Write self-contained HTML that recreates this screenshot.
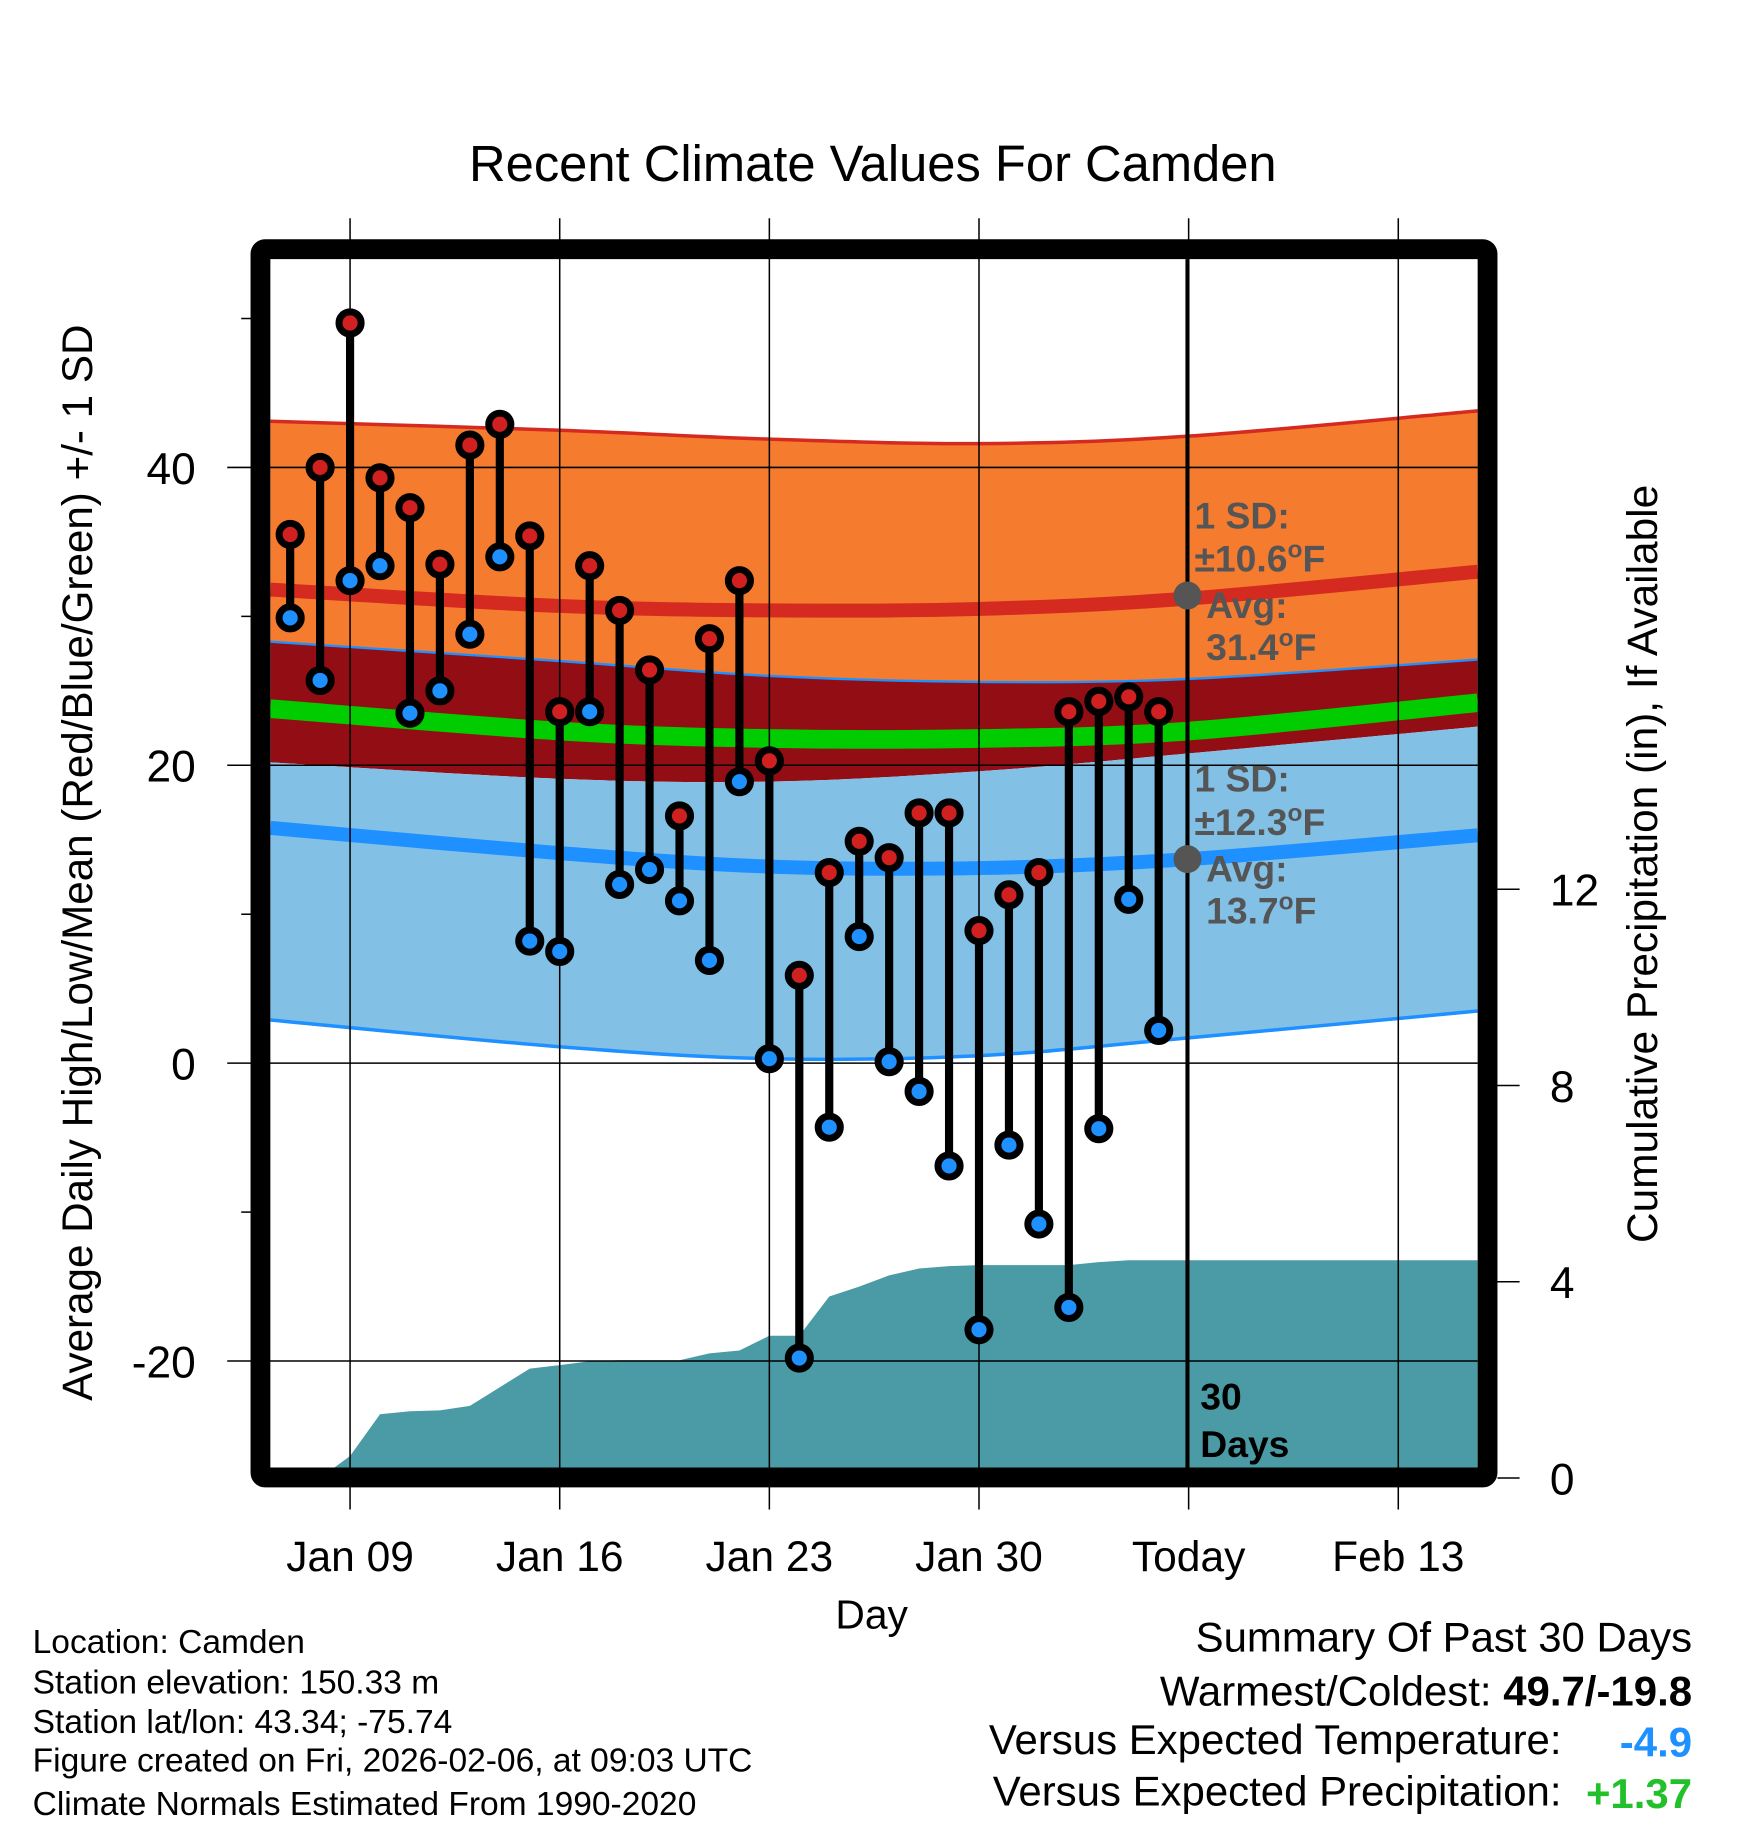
<!DOCTYPE html>
<html><head><meta charset="utf-8"><style>
html,body{margin:0;padding:0;background:#fff;}
svg{display:block;font-family:"Liberation Sans",Arial,sans-serif;}
</style></head><body>
<svg id="chart" width="1748" height="1828" viewBox="0 0 1500 1568" xmlns="http://www.w3.org/2000/svg">
<text x="749" y="155" font-size="43.5" text-anchor="middle">Recent Climate Values For Camden</text>
<g id="bands"></g>
<g id="grid"></g>
<g id="marks"></g>
<g id="annot"></g>
<text transform="translate(79,740) rotate(-90)" font-size="36.2" text-anchor="middle">Average Daily High/Low/Mean (Red/Blue/Green) +/- 1 SD</text>
<text transform="translate(1422,741) rotate(-90)" font-size="36.4" text-anchor="middle">Cumulative Precipitation (in), If Available</text>
<text x="748" y="1397" font-size="35" text-anchor="middle">Day</text>
<g font-size="28.8">
<text x="28" y="1418">Location: Camden</text>
<text x="28" y="1453">Station elevation: 150.33 m</text>
<text x="28" y="1487">Station lat/lon: 43.34; -75.74</text>
<text x="28" y="1520">Figure created on Fri, 2026-02-06, at 09:03 UTC</text>
<text x="28" y="1557">Climate Normals Estimated From 1990-2020</text>
</g>
<g font-size="36">
<text x="1452" y="1417" text-anchor="end">Summary Of Past 30 Days</text>
<text x="1452" y="1463" text-anchor="end">Warmest/Coldest: <tspan font-weight="bold">49.7/-19.8</tspan></text>
<text x="1340" y="1505" text-anchor="end">Versus Expected Temperature:</text>
<text x="1452" y="1507" text-anchor="end" font-weight="bold" fill="#1E90FF">-4.9</text>
<text x="1340" y="1549" text-anchor="end">Versus Expected Precipitation:</text>
<text x="1452" y="1551" text-anchor="end" font-weight="bold" fill="#22C02A">+1.37</text>
</g>
</svg>
<script>
const highs=[35.5,40,49.7,39.3,37.3,33.5,41.5,42.9,35.4,23.6,33.4,30.4,26.4,16.6,28.5,32.4,20.3,5.9,12.8,14.9,13.8,16.8,16.8,8.9,11.3,12.8,23.6,24.3,24.6,23.6];
const lows=[29.9,25.7,32.4,33.4,23.5,25,28.8,34,8.2,7.5,23.6,12,13,10.9,6.9,18.9,0.3,-19.8,-4.3,8.5,0.1,-1.9,-6.9,-17.9,-5.5,-10.8,-16.4,-4.4,11,2.2];
const precip=[0,0,0.45,1.3,1.36,1.38,1.47,1.85,2.23,2.3,2.38,2.4,2.4,2.4,2.54,2.6,2.9,2.9,3.7,3.9,4.13,4.27,4.32,4.34,4.34,4.34,4.34,4.4,4.44,4.44];
const normDays=[-0.66,9,16,23,30,39.65];
const highUpper=[43.1,42.5,41.9,41.6,42.1,43.8];
const highMean=[31.8,30.7,30.4,30.5,31.2,33.0];
const highLower=[28.3,27.0,26.0,25.6,25.8,27.1];
const lowUpper=[20.2,19.1,18.9,19.6,20.8,22.6];
const lowMean=[15.8,14.1,13.2,13.1,13.7,15.3];
const lowLower=[2.9,1.1,0.3,0.5,1.7,3.5];
const meanNorm=[23.8,22.3,21.8,21.8,22.3,24.2];
const xTickDays=[2,9,16,23,30,37];
const xTickLabels=["Jan 09","Jan 16","Jan 23","Jan 30","Today","Feb 13"];
const yTicks=[40,20,0,-20];
const y2Ticks=[0,4,8,12];

const NS="http://www.w3.org/2000/svg";
const L=232,R=1268,T=222,B=1259;
const x=d=>249+d*25.7;
const y=v=>912-v*12.78;
const y2=p=>1268-p*42.1;
function mk(tag,attrs,parent){const e=document.createElementNS(NS,tag);for(const k in attrs)e.setAttribute(k,attrs[k]);parent.appendChild(e);return e;}
const bands=document.getElementById('bands'),grid=document.getElementById('grid'),marks=document.getElementById('marks'),annot=document.getElementById('annot');
function smooth(vals){const pts=[];for(let i=0;i<vals.length;i++)pts.push([x(normDays[i]),y(vals[i])]);
 let d=`${pts[0][0]},${pts[0][1]}`;for(let i=0;i<pts.length-1;i++){const p0=pts[Math.max(0,i-1)],p1=pts[i],p2=pts[i+1],p3=pts[Math.min(pts.length-1,i+2)];
 d+=` C${p1[0]+(p2[0]-p0[0])/6},${p1[1]+(p2[1]-p0[1])/6} ${p2[0]-(p3[0]-p1[0])/6},${p2[1]-(p3[1]-p1[1])/6} ${p2[0]},${p2[1]}`;}return d;}
function rev(vals){const pts=[];for(let i=vals.length-1;i>=0;i--)pts.push([x(normDays[i]),y(vals[i])]);
 let d=` L${pts[0][0]},${pts[0][1]}`;for(let i=0;i<pts.length-1;i++){const p0=pts[Math.max(0,i-1)],p1=pts[i],p2=pts[i+1],p3=pts[Math.min(pts.length-1,i+2)];
 d+=` C${p1[0]+(p2[0]-p0[0])/6},${p1[1]+(p2[1]-p0[1])/6} ${p2[0]-(p3[0]-p1[0])/6},${p2[1]-(p3[1]-p1[1])/6} ${p2[0]},${p2[1]}`;}return d+' Z';}
let e;
e=mk('path',{d:'M'+smooth(highUpper)+rev(highLower),fill:'#F57B2E'},bands);

e=mk('path',{d:'M'+smooth(highUpper),fill:'none',stroke:'#D42A20','stroke-width':3},bands);

e=mk('path',{d:'M'+smooth(highLower)+rev(lowUpper),fill:'#920E14'},bands);

e=mk('path',{d:'M'+smooth(lowUpper)+rev(lowLower),fill:'#82C0E6'},bands);

e=mk('path',{d:'M'+smooth(highLower),fill:'none',stroke:'#1E90FF','stroke-width':2},bands);

e=mk('path',{d:'M'+smooth(lowLower),fill:'none',stroke:'#1E90FF','stroke-width':3},bands);

e=mk('path',{d:'M'+smooth(highMean),fill:'none',stroke:'#D42A20','stroke-width':12},bands);

e=mk('path',{d:'M'+smooth(lowMean),fill:'none',stroke:'#1E90FF','stroke-width':12},bands);

e=mk('path',{d:'M'+smooth(meanNorm),fill:'none',stroke:'#00CC00','stroke-width':16},bands);

let pd=`M${L},${B} L${x(0)},${y2(precip[0])}`;precip.forEach((p,i)=>{pd+=` L${x(i)},${y2(p)}`;});
pd+=` L${R},${y2(precip[precip.length-1])} L${R},${B} Z`;
e=mk('path',{d:pd,fill:'#4A9BA5'},bands);

xTickDays.forEach((d,i)=>{
 e=mk('line',{x1:x(d),x2:x(d),y1:187,y2:1295,stroke:'#000','stroke-width':1.3},grid);
 
 e=mk('text',{x:x(d),y:1348,'font-size':36.5,'text-anchor':'middle'},grid);e.textContent=xTickLabels[i];
 
});
yTicks.forEach(v=>{
 e=mk('line',{x1:195,x2:R,y1:y(v),y2:y(v),stroke:'#000','stroke-width':1.3},grid);
 
 e=mk('text',{x:168,y:y(v)+14,'font-size':38,'text-anchor':'end'},grid);e.textContent=v;
 
});
[50,30,10,-10].forEach(v=>{mk('line',{x1:207,x2:216,y1:y(v),y2:y(v),stroke:'#000','stroke-width':1.3},grid);});
y2Ticks.forEach(p=>{
 e=mk('line',{x1:1285,x2:1304,y1:y2(p),y2:y2(p),stroke:'#000','stroke-width':1.3},grid);
 
 e=mk('text',{x:1330,y:y2(p)+14,'font-size':38,'text-anchor':'start'},grid);e.textContent=p;
 
});
e=mk('line',{x1:1019,x2:1019,y1:T,y2:B,stroke:'#000','stroke-width':3.5},grid);

e=mk('rect',{x:223.5,y:213.5,width:1053,height:1054,fill:'none',stroke:'#000','stroke-width':17,rx:4},grid);

highs.forEach((h,i)=>{
 const l=lows[i],cx=x(i);
 e=mk('line',{x1:cx,x2:cx,y1:y(h),y2:y(l),stroke:'#000','stroke-width':7},marks);
 
 e=mk('circle',{cx:cx,cy:y(h),r:9.5,fill:'#D02020',stroke:'#000','stroke-width':6},marks);
 
 e=mk('circle',{cx:cx,cy:y(l),r:9.5,fill:'#1E90FF',stroke:'#000','stroke-width':6},marks);
 
});
function ann(yMean,sd,avg,top){
 e=mk('circle',{cx:1019,cy:y(yMean),r:12,fill:'#555'},annot);
 
 const g=mk('g',{fill:'#555','font-size':32,'font-weight':'bold'},annot);
 
 let t=mk('text',{x:1025,y:top},g);t.textContent='1 SD:';
 t=mk('text',{x:1025,y:top+37},g);t.innerHTML='±'+sd+'<tspan dy="-12" font-size="21">o</tspan><tspan dy="12">F</tspan>';
 t=mk('text',{x:1035,y:top+77},g);t.textContent='Avg:';
 t=mk('text',{x:1035,y:top+113},g);t.innerHTML=avg+'<tspan dy="-12" font-size="21">o</tspan><tspan dy="12">F</tspan>';
}
ann(31.4,'10.6','31.4',453);
ann(13.7,'12.3','13.7',679);
e=mk('text',{x:1030,y:1209,'font-size':32,'font-weight':'bold'},annot);e.textContent='30';

e=mk('text',{x:1030,y:1250,'font-size':32,'font-weight':'bold'},annot);e.textContent='Days';

</script>
</body></html>
